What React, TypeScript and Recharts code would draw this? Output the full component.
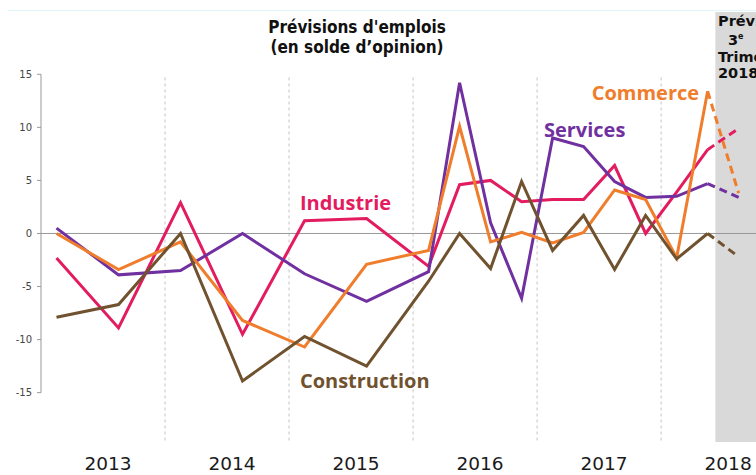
import { LineChart, Line, XAxis, YAxis, ReferenceLine, ReferenceArea, ReferenceDot } from "recharts";

// quarter index from 2013 Q1 = 0 (semi-annual survey until 2015, quarterly after)
const quarters = [0, 2, 4, 6, 8, 10, 12, 13, 14, 15, 16, 17, 18, 19, 20, 21, 22];
const years = ["2013", "2014", "2015", "2016", "2017", "2018"];
const yTicks = [-15, -10, -5, 0, 5, 10, 15];

const industrie = [-2.3, -8.9, 2.9, -9.5, 1.2, 1.4, -3.1, 4.6, 5.0, 3.0, 3.2, 3.2, 6.4, 0.0, 3.9, 7.9];
const services = [0.5, -3.9, -3.5, 0.0, -3.8, -6.4, -3.6, 14.2, 1.0, -6.1, 9.0, 8.2, 4.9, 3.4, 3.5, 4.7];
const commerce = [0.0, -3.4, -0.8, -8.2, -10.7, -2.9, -1.6, 10.1, -0.8, 0.1, -0.9, 0.1, 4.1, 3.2, -2.3, 13.4];
const construction = [-7.9, -6.7, 0.0, -13.9, -9.7, -12.5, -4.5, 0.0, -3.3, 4.9, -1.6, 1.7, -3.4, 1.7, -2.4, 0.0];

// prévisions pour le 3e trimestre 2018
const forecast = { industrie: 9.9, services: 3.4, commerce: 3.8, construction: -2.2 };

const series = [
  { key: "industrie", name: "Industrie", values: industrie, color: "#e31c5f", labelAt: [7.85, 2.2] },
  { key: "services", name: "Services", values: services, color: "#7030a0", labelAt: [15.72, 9.1] },
  { key: "commerce", name: "Commerce", values: commerce, color: "#ef7d2c", labelAt: [17.26, 12.6] },
  { key: "construction", name: "Construction", values: construction, color: "#70522f", labelAt: [7.85, -14.55] },
];

const last = industrie.length - 1;

const rows = quarters.map((q, i) => {
  const row: Record<string, number | null> = { q };
  series.forEach((s) => {
    row[s.key] = i <= last ? s.values[i] : null;
    row[s.key + "Prev"] = i === last ? s.values[i] : i > last ? forecast[s.key as keyof typeof forecast] : null;
  });
  return row;
});

const X_DOMAIN: [number, number] = [-0.5, 22.56];
const Y_DOMAIN: [number, number] = [-19.65, 20.87];
const separators = [3.5, 7.5, 11.5, 15.5, 19.5];

function YearTick({ x, payload }: any) {
  const label = years[Math.round((payload.value - 1.5) / 4)];
  return (
    <text x={x + 5} y={470} textAnchor="middle" fontSize={18.5} fontFamily="DejaVu Sans" fill="#1a1a1a">
      {label}
    </text>
  );
}

export default function App() {
  return (
    <div style={{ position: "absolute", left: 0, top: 0, width: 756, height: 475, overflow: "hidden", background: "#fff" }}>
      <div style={{ position: "absolute", left: 8, right: 0, top: 10, borderTop: "1px solid #dff6fa" }} />
      <LineChart width={756} height={475} data={rows} margin={{ top: 12, right: 0, bottom: 0, left: 0 }}>
        <ReferenceArea x1={21.25} x2={X_DOMAIN[1]} y1={Y_DOMAIN[0]} y2={Y_DOMAIN[1]} fill="#d9d9d9" fillOpacity={1} stroke="none" ifOverflow="visible" />
        <XAxis
          dataKey="q"
          type="number"
          domain={X_DOMAIN}
          allowDataOverflow
          ticks={years.map((_, i) => i * 4 + 1.5)}
          tick={<YearTick />}
          axisLine={false}
          tickLine={false}
          height={33}
          interval={0}
        />
        <YAxis
          type="number"
          domain={Y_DOMAIN}
          allowDataOverflow
          ticks={yTicks}
          width={41}
          axisLine={false}
          tickLine={{ stroke: "#999" }}
          tickSize={4}
          tickMargin={5}
          tick={{ fontSize: 10, fill: "#444", fontFamily: "DejaVu Sans" }}
        />
        {separators.map((x) => (
          <ReferenceLine
            key={x}
            segment={[{ x, y: 14.7 }, { x, y: Y_DOMAIN[0] }]}
            stroke="#c4c4c4"
            strokeDasharray="3 3"
          />
        ))}
        <ReferenceLine segment={[{ x: -0.5, y: -15 }, { x: -0.5, y: 15 }]} stroke="#999" ifOverflow="visible" />
        <ReferenceLine y={0} stroke="#999" />
        {series.map((s) => (
          <Line
            key={s.key}
            dataKey={s.key}
            stroke={s.color}
            strokeWidth={3}
            dot={false}
            activeDot={false}
            isAnimationActive={false}
          />
        ))}
        {series.map((s) => (
          <Line
            key={s.key + "Prev"}
            dataKey={s.key + "Prev"}
            stroke={s.color}
            strokeWidth={3}
            strokeDasharray="8 5"
            dot={false}
            activeDot={false}
            isAnimationActive={false}
          />
        ))}
        {series.map((s) => (
          <ReferenceDot
            key={s.key + "Label"}
            x={s.labelAt[0]}
            y={s.labelAt[1]}
            r={0}
            ifOverflow="visible"
            shape={(p: any) => (
              <text x={p.cx} y={p.cy} fill={s.color} fontSize={20} fontWeight={700} fontFamily="'Open Sans', sans-serif">
                {s.name}
              </text>
            )}
          />
        ))}
      </LineChart>
      <div
        style={{
          position: "absolute",
          left: 237,
          width: 240,
          top: 17,
          textAlign: "center",
          fontFamily: "'DejaVu Sans Condensed', 'DejaVu Sans', sans-serif",
          fontStretch: "condensed",
          fontWeight: 700,
          fontSize: 17,
          lineHeight: "20px",
          color: "#111",
        }}
      >
        Prévisions d'emplois
        <br />
        (en solde d’opinion)
      </div>
      <div
        style={{
          position: "absolute",
          left: 718,
          top: 13,
          fontFamily: "'DejaVu Sans', sans-serif",
          fontWeight: 700,
          fontSize: 14.5,
          lineHeight: "16.5px",
          color: "#111",
          whiteSpace: "nowrap",
        }}
      >
        Prévisions
        <br />
        <span style={{ paddingLeft: 10 }}>
          3<sup style={{ fontSize: 8 }}>e</sup>
        </span>
        <br />
        Trimestre
        <br />
        2018
      </div>
    </div>
  );
}
